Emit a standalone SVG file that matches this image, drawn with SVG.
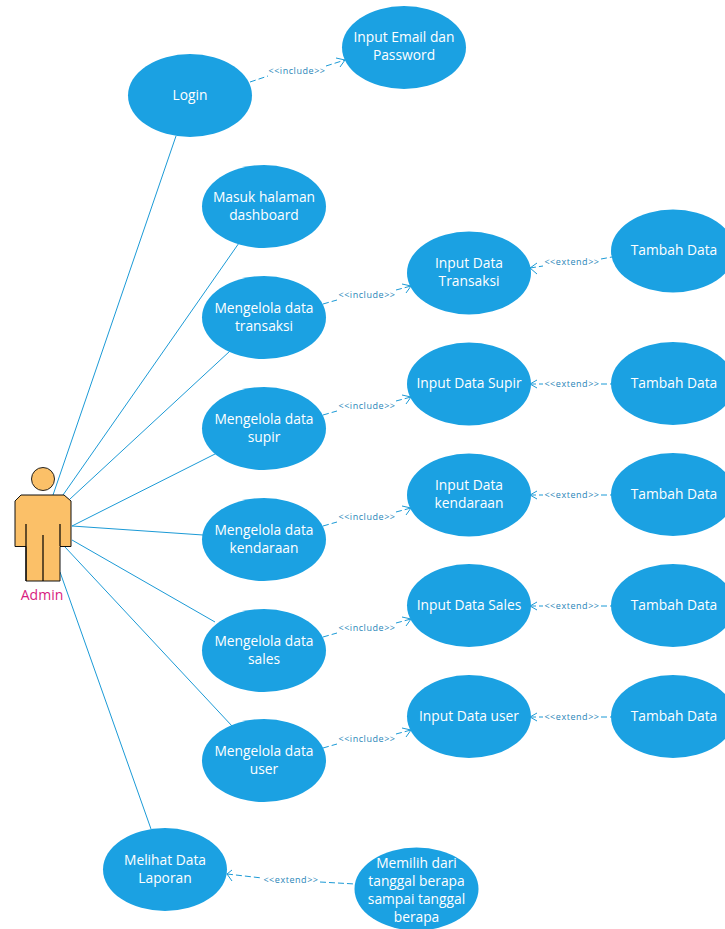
<svg xmlns="http://www.w3.org/2000/svg" width="725" height="929" viewBox="0 0 725 929">
<style>
.n{fill:#1ba1e2}
.t{font-family:"Open Sans","Noto Sans",sans-serif;font-size:13.8px;fill:#fff;text-anchor:middle}
.a{stroke:#1b9ad6;stroke-width:1;fill:none}
.d{stroke:#1b9ad6;stroke-width:1;fill:none;stroke-dasharray:6 3}
.h{stroke:#1b9ad6;stroke-width:1;fill:none}
.l{font-family:"Open Sans","Noto Sans",sans-serif;font-size:9px;letter-spacing:.55px;fill:#2a86b8;text-anchor:middle}
.k{stroke:#000;stroke-width:1.2;fill:none}
</style>
<rect width="725" height="929" fill="#fff"/>
<g id="connectors">
<path class="a" d="M176 136L53 495"/>
<path class="a" d="M239 243L63 495"/>
<path class="a" d="M230 351L70 499"/>
<path class="a" d="M217 453L72 526"/>
<path class="a" d="M203 535L72 526"/>
<path class="a" d="M215 622L72 540"/>
<path class="a" d="M232 726L65 547"/>
<path class="a" d="M151 829L60 572"/>
<path class="d" d="M250 82L268 76M326 66L345 60"/><path class="h" d="M336 58L345 60L340 67"/>
<text class="l" x="297" y="74">&lt;&lt;include&gt;&gt;</text>
<path class="d" d="M323 304L337 300M396 290L411 286"/><path class="h" d="M402 284L411 286L406 293"/>
<text class="l" x="367" y="298">&lt;&lt;include&gt;&gt;</text>
<path class="d" d="M323 415L337 411M396 401L411 397"/><path class="h" d="M402 395L411 397L406 404"/>
<text class="l" x="367" y="409">&lt;&lt;include&gt;&gt;</text>
<path class="d" d="M323 526L337 522M396 512L411 508"/><path class="h" d="M402 506L411 508L406 515"/>
<text class="l" x="367" y="520">&lt;&lt;include&gt;&gt;</text>
<path class="d" d="M323 637L337 633M396 623L411 619"/><path class="h" d="M402 617L411 619L406 626"/>
<text class="l" x="367" y="631">&lt;&lt;include&gt;&gt;</text>
<path class="d" d="M323 748L337 744M396 734L411 730"/><path class="h" d="M402 728L411 730L406 737"/>
<text class="l" x="367" y="742">&lt;&lt;include&gt;&gt;</text>
<path class="d" d="M530 268L543 266M601 259L612 257"/><path class="h" d="M537 263L530 268L537 274"/>
<text class="l" x="572" y="265">&lt;&lt;extend&gt;&gt;</text>
<path class="d" d="M530 384L543 384M601 384L612 384"/><path class="h" d="M537 380L530 384L537 388"/>
<text class="l" x="572" y="387">&lt;&lt;extend&gt;&gt;</text>
<path class="d" d="M530 495L543 495M601 495L612 495"/><path class="h" d="M537 491L530 495L537 499"/>
<text class="l" x="572" y="498">&lt;&lt;extend&gt;&gt;</text>
<path class="d" d="M530 606L543 606M601 606L612 606"/><path class="h" d="M537 602L530 606L537 610"/>
<text class="l" x="572" y="609">&lt;&lt;extend&gt;&gt;</text>
<path class="d" d="M530 717L543 717M601 717L612 717"/><path class="h" d="M537 713L530 717L537 721"/>
<text class="l" x="572" y="720">&lt;&lt;extend&gt;&gt;</text>
<path class="d" d="M227 874L262 878M320 882L355 884"/><path class="h" d="M232 870L227 874L232 881"/>
<text class="l" x="291" y="883">&lt;&lt;extend&gt;&gt;</text>
</g>
<g id="actor">
<circle cx="43" cy="479" r="11.5" fill="#fbc068" stroke="#222" stroke-width="1"/>
<path d="M21 495H64L71 501V546.5H60V581H26V546.5H15V501Z" fill="#fbc068" stroke="#111" stroke-width="1"/>
<path class="k" d="M26 524V581M60 524V546M43 535V581"/>
<text x="42" y="600" font-family="Open Sans,Noto Sans,sans-serif" font-size="14" fill="#d81b80" text-anchor="middle">Admin</text>
</g>
<g id="login"><ellipse class="n" cx="190" cy="95.5" rx="62" ry="41.5"/><text class="t" x="190" y="100">Login</text></g>
<g id="input-email"><ellipse class="n" cx="404" cy="47.5" rx="62" ry="41.5"/><text class="t" y="42"><tspan x="404">Input Email dan</tspan><tspan x="404" y="60">Password</tspan></text></g>
<g id="dashboard"><ellipse class="n" cx="264" cy="206.5" rx="62" ry="41.5"/><text class="t" y="202"><tspan x="264">Masuk halaman</tspan><tspan x="264" y="220">dashboard</tspan></text></g>
<g id="transaksi"><ellipse class="n" cx="264" cy="317.5" rx="62" ry="41.5"/><text class="t" y="312.5"><tspan x="264">Mengelola data</tspan><tspan x="264" y="330.5">transaksi</tspan></text></g>
<g id="supir"><ellipse class="n" cx="264" cy="428.5" rx="62" ry="41.5"/><text class="t" y="423.5"><tspan x="264">Mengelola data</tspan><tspan x="264" y="441.5">supir</tspan></text></g>
<g id="kendaraan"><ellipse class="n" cx="264" cy="539.5" rx="62" ry="41.5"/><text class="t" y="534.5"><tspan x="264">Mengelola data</tspan><tspan x="264" y="552.5">kendaraan</tspan></text></g>
<g id="sales"><ellipse class="n" cx="264" cy="650.5" rx="62" ry="41.5"/><text class="t" y="645.5"><tspan x="264">Mengelola data</tspan><tspan x="264" y="663.5">sales</tspan></text></g>
<g id="user"><ellipse class="n" cx="264" cy="760.5" rx="62" ry="41.5"/><text class="t" y="756"><tspan x="264">Mengelola data</tspan><tspan x="264" y="774">user</tspan></text></g>
<g id="in-transaksi"><ellipse class="n" cx="469" cy="273" rx="62" ry="41.5"/><text class="t" y="268"><tspan x="469">Input Data</tspan><tspan x="469" y="286">Transaksi</tspan></text></g>
<g id="in-supir"><ellipse class="n" cx="469" cy="384" rx="62" ry="41.5"/><text class="t" x="469" y="388">Input Data Supir</text></g>
<g id="in-kendaraan"><ellipse class="n" cx="469" cy="495" rx="62" ry="41.5"/><text class="t" y="490"><tspan x="469">Input Data</tspan><tspan x="469" y="508">kendaraan</tspan></text></g>
<g id="in-sales"><ellipse class="n" cx="469" cy="605.5" rx="62" ry="41.5"/><text class="t" x="469" y="610">Input Data Sales</text></g>
<g id="in-user"><ellipse class="n" cx="469" cy="716.5" rx="62" ry="41.5"/><text class="t" x="469" y="721">Input Data user</text></g>
<g id="tambah-1"><ellipse class="n" cx="673" cy="251" rx="62" ry="41.5"/><text class="t" x="674" y="255">Tambah Data</text></g>
<g id="tambah-2"><ellipse class="n" cx="673" cy="383.5" rx="62" ry="41.5"/><text class="t" x="674" y="388">Tambah Data</text></g>
<g id="tambah-3"><ellipse class="n" cx="673" cy="494.5" rx="62" ry="41.5"/><text class="t" x="674" y="499">Tambah Data</text></g>
<g id="tambah-4"><ellipse class="n" cx="673" cy="605.5" rx="62" ry="41.5"/><text class="t" x="674" y="610">Tambah Data</text></g>
<g id="tambah-5"><ellipse class="n" cx="673" cy="716.5" rx="62" ry="41.5"/><text class="t" x="674" y="721">Tambah Data</text></g>
<g id="laporan"><ellipse class="n" cx="165" cy="869.5" rx="62" ry="41.5"/><text class="t" y="865"><tspan x="165">Melihat Data</tspan><tspan x="165" y="883">Laporan</tspan></text></g>
<g id="memilih"><ellipse class="n" cx="416.5" cy="889" rx="62" ry="41.5"/><text class="t" y="868"><tspan x="416.5">Memilih dari</tspan><tspan x="416.5" y="886">tanggal berapa</tspan><tspan x="416.5" y="904">sampai tanggal</tspan><tspan x="416.5" y="921.5">berapa</tspan></text></g>
</svg>
